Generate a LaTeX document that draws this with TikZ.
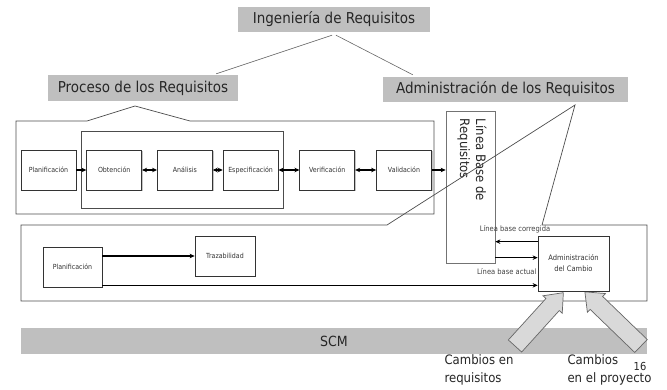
\documentclass[tikz,border=0pt]{standalone}
\usepackage{fontspec}
\setmainfont{DejaVu Sans Condensed}
\usetikzlibrary{positioning, fit, shadows, arrows.meta}

\tikzset{
  titlebox/.style={fill=gray!50, minimum height=25pt, inner sep=0pt, text=black!85, font=\fontsize{15}{18}\selectfont},
  stepbox/.style={draw=black!80, fill=white, line width=0.7pt, minimum width=55pt, minimum height=40pt, inner sep=1pt, text=black!80, font=\fontsize{7}{8.5}\selectfont, drop shadow={shadow xshift=1.3pt, shadow yshift=-1.3pt, fill=black!45}},
  frame/.style={draw=black!70, line width=0.7pt},
  tree/.style={draw=black!60, line width=0.6pt},
  conn/.style={line width=1.4pt, >={Stealth[length=5pt, width=4.5pt]}},
  small/.style={inner sep=1pt, text=black!75, font=\fontsize{7.5}{9}\selectfont},
  bigarrow/.style={draw=black!60, fill=black!15, line width=0.7pt, line join=miter},
  big/.style={text=black!85, font=\fontsize{13}{18}\selectfont},
  pics/chgarrow/.style={code={
    \draw[bigarrow] (0,-9) -- (#1-16,-9) -- (#1-16,-13) -- (#1,0) -- (#1-16,13) -- (#1-16,9) -- (0,9) -- cycle;
  }}
}

\begin{document}
\begin{tikzpicture}[x=1pt, y=-1pt]
\useasboundingbox (0,0) rectangle (667,390);
% Titles
\node[titlebox, minimum width=192pt] (ing) at (334,19.5) {Ingeniería de Requisitos};
\node[titlebox, minimum width=190pt, minimum height=26pt] (proc) at (143,88) {Proceso de los Requisitos};
\node[titlebox, minimum width=245pt] (adm) at (505.5,89.5) {Administración de los Requisitos};
\draw[tree] ([shift={(-2pt,-3pt)}]ing.south) -- ([shift={(-22pt,1pt)}]proc.north east);
\draw[tree] ([shift={(2pt,-3pt)}]ing.south) -- ([shift={(30pt,2pt)}]adm.north west);
% Process of requirements
\draw[frame] (16,121) -- (87,121) -- (135,106) -- (190,121) -- (434,121) -- (434,214) -- (16,214) -- cycle;
\node[stepbox] (plan) at (48.5,170) {Planificación};
\node[stepbox, right=10pt of plan] (obt) {Obtención};
\node[stepbox, right=15pt of obt] (ana) {Análisis};
\node[stepbox, right=10pt of ana] (esp) {Especificación};
\node[stepbox, right=21pt of esp] (ver) {Verificación};
\node[stepbox, right=21pt of ver] (val) {Validación};
\node[frame, fit=(obt)(esp), inner xsep=5pt, inner ysep=18pt] (elab) {};
% Baseline
\node[draw=black!55, fill=white, line width=0.7pt, minimum width=49pt, minimum height=152pt] (lbase) at (470.5,187) {};
\node[rotate=-90, align=left, text=black!85, font=\fontsize{13}{16}\selectfont] (lbtext) at (472,160) {Línea Base de\\Requisitos};
\draw[conn,->] (plan) -- (obt);
\draw[conn,<->] (obt) -- (ana);
\draw[conn,<->] (ana) -- (esp);
\draw[conn,<->] (esp) -- (ver);
\draw[conn,<->] (ver) -- (val);
\draw[conn,->] (val) -- (val -| lbase.west);
% Management of requirements
\draw[frame] (21,225) -- (387,225) -- (575,105) -- (542,225) -- (647,225) -- (647,301) -- (21,301) -- cycle;
\node[fill=gray!50, minimum width=626pt, minimum height=26pt, inner sep=0pt, text=black!85, font=\fontsize{14}{16}\selectfont] (scm) at (334,341) {SCM};
\pic[rotate=47.8] (chreq) at (515,346) {chgarrow=72};
\pic[rotate=136] (chproj) at (641,346) {chgarrow=78};
\node[stepbox, minimum width=59pt] (planb) at (72.5,267) {Planificación};
\node[stepbox, minimum width=60pt] (traz) at (225,256) {Trazabilidad};
\node[stepbox, minimum width=71pt, minimum height=55pt, align=center, font=\fontsize{7.5}{11}\selectfont] (cambio) at (573.5,263.5) {Administración\\del Cambio};
\draw[conn,->] (planb.east |- traz.west) -- (traz.west);
\coordinate (pa) at ([yshift=2pt]planb.south east);
\draw[conn,->] (pa) -- (pa -| cambio.west);
\coordinate (ca) at ([yshift=-6pt]cambio.north west);
\draw[conn,->] (ca) -- (ca -| lbase.east);
\coordinate (cb) at ([yshift=-22pt]cambio.north west);
\draw[conn,->] (cb -| lbase.east) -- (cb);
\node[small] (lbcor) at (515,229) {Línea base corregida};
\node[small, anchor=east] (lbact) at ([yshift=-14pt]cb) {Línea base actual};
% Changes
\node[big, anchor=north west, align=left] (treq) at (441,351) {Cambios en\\requisitos};
\node[big, anchor=north west, align=left] (tproj) at (564,351) {Cambios\\en el proyecto};
\node[text=black!85, font=\fontsize{11}{13}\selectfont] (pnum) at (640,366) {16};
\end{tikzpicture}
\end{document}
